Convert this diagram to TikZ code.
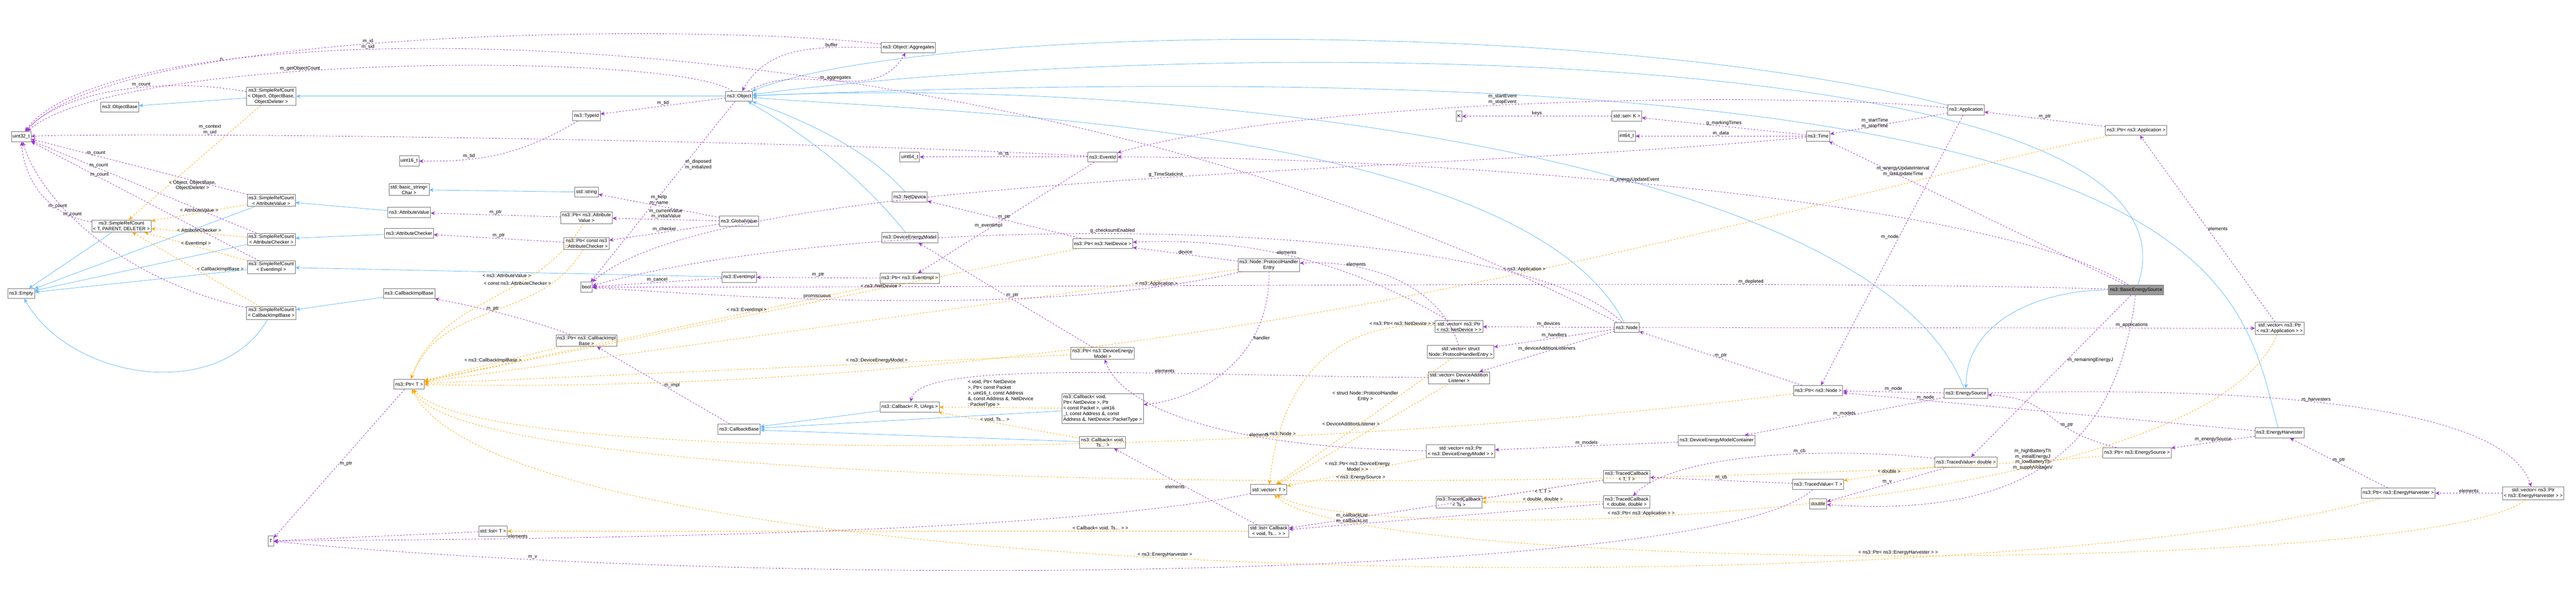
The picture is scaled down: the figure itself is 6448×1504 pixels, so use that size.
\documentclass[tikz,border=0pt]{standalone}
\usepackage{fontspec}
\setmainfont{Liberation Sans}
\usetikzlibrary{arrows.meta}
\definecolor{inhblue}{HTML}{63B8FF}
\definecolor{mempurple}{HTML}{9A32CD}
\definecolor{tplorange}{HTML}{FFA500}
\begin{document}
\begin{tikzpicture}[font=\fontsize{9}{10.5}\selectfont]
                \tikzset{x=0.75pt, y=-0.75pt}
                \tikzstyle{cls}=[rectangle, draw=black!55, line width=0.8pt, fill=white, align=center, inner sep=2.5pt, minimum height=19pt]
                \tikzstyle{cur}=[cls, fill=black!40]
                \tikzstyle{inh}=[draw=inhblue, line width=0.8pt, -{Stealth[length=8pt,width=7pt]}]
                \tikzstyle{mem}=[draw=mempurple, line width=0.8pt, dashed, -{Stealth[length=8pt,width=7pt]}]
                \tikzstyle{tpl}=[draw=tplorange, line width=0.8pt, dashed, -{Stealth[length=8pt,width=7pt]}]
                \tikzstyle{lbl}=[fill=none, align=center, inner sep=1pt, text=black]

                \useasboundingbox (0,0) rectangle (6448,1504);

                % basic types and ref counting
                \draw (53,342)    node[cls]   (u32)   {uint32\_t};
                \draw (53,735)    node[cls]   (empty) {ns3::Empty};
                \draw (300,268)   node[cls]   (obase) {ns3::ObjectBase};
                \draw (679,241)   node[cls]   (srcobj) {ns3::SimpleRefCount\\< Object, ObjectBase,\\ObjectDeleter >};
                \draw (304,566)   node[cls]   (srct)  {ns3::SimpleRefCount\\< T, PARENT, DELETER >};
                \draw (679,502)   node[cls]   (srcav) {ns3::SimpleRefCount\\< AttributeValue >};
                \draw (679,599)   node[cls]   (srcac) {ns3::SimpleRefCount\\< AttributeChecker >};
                \draw (679,669)   node[cls]   (srcev) {ns3::SimpleRefCount\\< EventImpl >};
                \draw (679,784)   node[cls]   (srccb) {ns3::SimpleRefCount\\< CallbackImplBase >};
                \draw (1024,403)  node[cls]   (u16)   {uint16\_t};
                \draw (1024,475)  node[cls]   (bstr)  {std::basic\_string<\\Char >};
                \draw (1024,532)  node[cls]   (aval)  {ns3::AttributeValue};
                \draw (1024,584)  node[cls]   (achk)  {ns3::AttributeChecker};
                \draw (1024,735)  node[cls]   (cbib)  {ns3::CallbackImplBase};
                \draw (1024,962)  node[cls]   (ptrt)  {ns3::Ptr< T >};
                \draw (678,1355)  node[cls]   (tt)    {T};
                \draw (1234,1330) node[cls]   (listt) {std::list< T >};

                % object column
                \draw (1850,241)  node[cls]   (obj)   {ns3::Object};
                \draw (2274,119)  node[cls]   (aggr)  {ns3::Object::Aggregates};
                \draw (1468,290)  node[cls]   (tid)   {ns3::TypeId};
                \draw (1468,481)  node[cls]   (str)   {std::string};
                \draw (1468,545)  node[cls]   (ptrav) {ns3::Ptr< ns3::Attribute\\Value >};
                \draw (1468,610)  node[cls]   (ptrac) {ns3::Ptr< const ns3\\::AttributeChecker >};
                \draw (1850,554)  node[cls]   (gval)  {ns3::GlobalValue};
                \draw (1850,694)  node[cls]   (evimpl) {ns3::EventImpl};
                \draw (1468,719)  node[cls]   (bool)  {bool};
                \draw (1468,853)  node[cls]   (ptrcb) {ns3::Ptr< ns3::CallbackImpl\\Base >};
                \draw (1850,1075) node[cls]   (cbase) {ns3::CallbackBase};

                % devices, events, callbacks
                \draw (2277,393)  node[cls]   (u64)   {uint64\_t};
                \draw (2760,393)  node[cls]   (evid)  {ns3::EventId};
                \draw (2277,493)  node[cls]   (ndev)  {ns3::NetDevice};
                \draw (2277,595)  node[cls]   (dem)   {ns3::DeviceEnergyModel};
                \draw (2277,697)  node[cls]   (ptrev) {ns3::Ptr< ns3::EventImpl >};
                \draw (2760,610)  node[cls]   (ptrnd) {ns3::Ptr< ns3::NetDevice >};
                \draw (3176,664)  node[cls]   (phe)   {ns3::Node::ProtocolHandler\\Entry};
                \draw (2760,885)  node[cls]   (ptrdem) {ns3::Ptr< ns3::DeviceEnergy\\Model >};
                \draw (2277,1019) node[cls]   (cbru)  {ns3::Callback< R, UArgs >};
                \draw (2760,1023) node[cls, align=left] (cbnd) {ns3::Callback< void,\\ Ptr< NetDevice >, Ptr\\< const Packet >, uint16\\\_t, const Address \&, const\\ Address \&, NetDevice::PacketType >};
                \draw (2760,1108) node[cls]   (cbts)  {ns3::Callback< void,\\ Ts... >};
                \draw (3176,1226) node[cls]   (vect)  {std::vector< T >};
                \draw (3176,1330) node[cls]   (listcb) {std::list< Callback\\< void, Ts... > >};

                % time, node, energy
                \draw (3652,291)  node[cls]   (kk)    {K};
                \draw (4072,291)  node[cls]   (setk)  {std::set< K >};
                \draw (4072,341)  node[cls]   (i64)   {int64\_t};
                \draw (4551,341)  node[cls]   (time)  {ns3::Time};
                \draw (4921,275)  node[cls]   (app)   {ns3::Application};
                \draw (5347,326)  node[cls]   (ptrapp) {ns3::Ptr< ns3::Application >};
                \draw (5347,726)  node[cur]   (bes)   {ns3::BasicEnergySource};
                \draw (4072,820)  node[cls]   (node)  {ns3::Node};
                \draw (3652,818)  node[cls]   (vecnd) {std::vector< ns3::Ptr\\< ns3::NetDevice > >};
                \draw (3656,881)  node[cls]   (vecphe) {std::vector< struct\\ Node::ProtocolHandlerEntry >};
                \draw (3652,946)  node[cls]   (vecdal) {std::vector< DeviceAddition\\Listener >};
                \draw (4551,978)  node[cls]   (ptrnode) {ns3::Ptr< ns3::Node >};
                \draw (4921,985)  node[cls]   (esrc)  {ns3::EnergySource};
                \draw (4297,1103) node[cls]   (demc)  {ns3::DeviceEnergyModelContainer};
                \draw (3656,1130) node[cls]   (vecdem) {std::vector< ns3::Ptr\\< ns3::DeviceEnergyModel > >};
                \draw (4072,1193) node[cls]   (tcbtt) {ns3::TracedCallback\\< T, T >};
                \draw (3652,1257) node[cls]   (tcbts) {ns3::TracedCallback\\< Ts >};
                \draw (4072,1257) node[cls]   (tcbdd) {ns3::TracedCallback\\< double, double >};
                \draw (4551,1213) node[cls]   (tvt)   {ns3::TracedValue< T >};
                \draw (4551,1262) node[cls]   (dbl)   {double};
                \draw (4921,1157) node[cls]   (tvd)   {ns3::TracedValue< double >};
                \draw (5706,822)  node[cls]   (vecapp) {std::vector< ns3::Ptr\\< ns3::Application > >};
                \draw (5706,1084) node[cls]   (eharv) {ns3::EnergyHarvester};
                \draw (5349,1134) node[cls]   (ptres) {ns3::Ptr< ns3::EnergySource >};
                \draw (6003,1235) node[cls]   (ptreh) {ns3::Ptr< ns3::EnergyHarvester >};
                \draw (6341,1235) node[cls]   (veceh) {std::vector< ns3::Ptr\\< ns3::EnergyHarvester > >};

                % inheritance
                \draw [inh] (srcobj) -- (obase);
                \draw [inh] (obj) -- (srcobj);
                \draw [inh] (srct) -- (empty);
                \draw [inh] (srcav) -- (empty);
                \draw [inh] (srcac) -- (empty);
                \draw [inh] (srcev) -- (empty);
                \draw [inh] (srccb) to[out=240, in=300] (empty);
                \draw [inh] (aval) -- (srcav);
                \draw [inh] (achk) -- (srcac);
                \draw [inh] (evimpl) -- (srcev);
                \draw [inh] (cbib) -- (srccb);
                \draw [inh] (str) -- (bstr);
                \draw [inh] (app) .. controls (4000,40) and (2300,60) .. (obj);
                \draw [inh] (bes) .. controls (5560,90) and (3000,90) .. (obj);
                \draw [inh] (node) .. controls (3800,300) and (2300,280) .. (obj);
                \draw [inh] (ndev) .. controls (2150,350) and (1950,280) .. (obj);
                \draw [inh] (dem) .. controls (2120,400) and (1950,300) .. (obj);
                \draw [inh] (esrc) .. controls (4700,400) and (3000,190) .. (obj);
                \draw [inh] (eharv) .. controls (5600,700) and (5600,90) .. (obj);
                \draw [inh] (bes) to[out=180, in=90] (esrc);
                \draw [inh] (cbru) -- (cbase);
                \draw [inh] (cbnd) -- (cbase);
                \draw [inh] (cbts) -- (cbase);

                % templates
                \draw [tpl] (srcobj) -- node[lbl, right, pos=0.7] {< Object, ObjectBase,\\ObjectDeleter >} (srct);
                \draw [tpl] (srcav) -- node[lbl, above] {< AttributeValue >} (srct);
                \draw [tpl] (srcac) -- node[lbl, above] {< AttributeChecker >} (srct);
                \draw [tpl] (srcev) -- node[lbl, above] {< EventImpl >} (srct);
                \draw [tpl] (srccb) -- node[lbl, right] {< CallbackImplBase >} (srct);
                \draw [tpl] (ptrav) to[out=240, in=70] node[lbl, left, pos=0.3] {< ns3::AttributeValue >} (ptrt);
                \draw [tpl] (ptrac) to[out=240, in=70] node[lbl, left, pos=0.2] {< const ns3::AttributeChecker >} (ptrt);
                \draw [tpl] (ptrcb) -- node[lbl, above] {< ns3::CallbackImplBase >} (ptrt);
                \draw [tpl] (ptrev) -- node[lbl, above, pos=0.3] {< ns3::EventImpl >} (ptrt);
                \draw [tpl] (ptrnd) -- node[lbl, above, pos=0.3] {< ns3::NetDevice >} (ptrt);
                \draw [tpl] (ptrdem) -- node[lbl, above, pos=0.3] {< ns3::DeviceEnergyModel >} (ptrt);
                \draw [tpl] (ptrnode) .. controls (3200,1150) and (1200,1170) .. node[lbl, above, pos=0.3] {< ns3::Node >} (ptrt);
                \draw [tpl] (ptrapp) .. controls (4500,500) and (3000,1000) .. node[lbl, above, pos=0.45] {< ns3::Application >} (ptrt);
                \draw [tpl] (ptres) .. controls (4300,1230) and (1200,1260) .. node[lbl, above, pos=0.4] {< ns3::EnergySource >} (ptrt);
                \draw [tpl] (ptreh) .. controls (5000,1520) and (1300,1500) .. node[lbl, above, pos=0.55] {< ns3::EnergyHarvester >} (ptrt);
                \draw [tpl] (cbnd) -- node[lbl, above, align=left] {< void, Ptr< NetDevice\\>, Ptr< const Packet\\>, uint16\_t, const Address\\\&, const Address \&, NetDevice\\::PacketType >} (cbru);
                \draw [tpl] (cbts) -- node[lbl, above, pos=0.6] {< void, Ts... >} (cbru);
                \draw [tpl] (vecnd) .. controls (3300,800) and (3200,1000) .. node[lbl, above, pos=0.1] {< ns3::Ptr< ns3::NetDevice > >} (vect);
                \draw [tpl] (vecphe) -- node[lbl, left, pos=0.3] {< struct Node::ProtocolHandler\\Entry >} (vect);
                \draw [tpl] (vecdal) -- node[lbl, left, pos=0.4] {< DeviceAdditionListener >} (vect);
                \draw [tpl] (vecdem) -- node[lbl, above] {< ns3::Ptr< ns3::DeviceEnergy\\Model > >} (vect);
                \draw [tpl] (vecapp) .. controls (5500,1320) and (3400,1370) .. node[lbl, above, pos=0.6] {< ns3::Ptr< ns3::Application > >} (vect);
                \draw [tpl] (veceh) .. controls (6100,1440) and (3400,1440) .. node[lbl, above, pos=0.5] {< ns3::Ptr< ns3::EnergyHarvester > >} (vect);
                \draw [tpl] (listcb) -- node[lbl, above, pos=0.2] {< Callback< void, Ts... > >} (listt);
                \draw [tpl] (tcbtt) -- node[lbl, below] {< T, T >} (tcbts);
                \draw [tpl] (tcbdd) -- node[lbl, above] {< double, double >} (tcbts);
                \draw [tpl] (tvd) -- node[lbl, above] {< double >} (tvt);
                \draw [tpl] (phe) -- node[lbl, below, pos=0.1] {< ns3::Application >} (ptrt);

                % members
                \draw [mem] (node) .. controls (2500,0) and (300,0) .. node[lbl, above, pos=0.65] {m\_id\\m\_sid} (u32);
                \draw [mem] (aggr) .. controls (1800,60) and (300,60) .. node[lbl, above, pos=0.7] {n} (u32);
                \draw [mem] (obj) .. controls (1700,130) and (300,130) .. node[lbl, above, pos=0.6] {m\_getObjectCount} (u32);
                \draw [mem] (srcobj) .. controls (400,190) and (150,230) .. node[lbl, above, pos=0.4] {m\_count} (u32);
                \draw [mem] (srcav) -- node[lbl, above, pos=0.7] {m\_count} (u32);
                \draw [mem] (srcac) -- node[lbl, above, pos=0.7] {m\_count} (u32);
                \draw [mem] (srcev) -- node[lbl, above, pos=0.7] {m\_count} (u32);
                \draw [mem] (srccb) .. controls (300,700) and (100,500) .. node[lbl, above, pos=0.6] {m\_count} (u32);
                \draw [mem] (srct) .. controls (120,540) and (60,450) .. node[lbl, above, pos=0.3] {m\_count} (u32);
                \draw [mem] (evid) .. controls (2000,350) and (400,330) .. node[lbl, above, pos=0.75] {m\_context\\m\_uid} (u32);
                \draw [mem] (tid) .. controls (1300,390) and (1200,405) .. node[lbl, above, pos=0.7] {m\_tid} (u16);
                \draw [mem] (obj) -- node[lbl, above] {m\_tid} (tid);
                \draw [mem] (aggr) to[out=180, in=60] node[lbl, above, pos=0.3] {buffer} (obj);
                \draw [mem] (obj) to[out=30, in=240] node[lbl, above, pos=0.5] {m\_aggregates} (aggr);
                \draw [mem] (obj) -- node[lbl, right, pos=0.35] {m\_disposed\\m\_initialized} (bool);
                \draw [mem] (gval) -- node[lbl, above] {m\_help\\m\_name} (str);
                \draw [mem] (gval) -- node[lbl, above] {m\_currentValue\\m\_initialValue} (ptrav);
                \draw [mem] (gval) -- node[lbl, above] {m\_checker} (ptrac);
                \draw [mem] (ptrav) -- node[lbl, above] {m\_ptr} (aval);
                \draw [mem] (ptrac) -- node[lbl, above] {m\_ptr} (achk);
                \draw [mem] (ptrcb) .. controls (1300,790) and (1150,760) .. node[lbl, above] {m\_ptr} (cbib);
                \draw [mem] (ptrev) -- node[lbl, above] {m\_ptr} (evimpl);
                \draw [mem] (ptrnd) -- node[lbl, above] {m\_ptr} (ndev);
                \draw [mem] (ptrdem) -- node[lbl, right] {m\_ptr} (dem);
                \draw [mem] (ptrnode) -- node[lbl, above] {m\_ptr} (node);
                \draw [mem] (ptrapp) -- node[lbl, above] {m\_ptr} (app);
                \draw [mem] (ptres) .. controls (5100,1070) and (5150,1000) .. node[lbl, above, pos=0.3] {m\_ptr} (esrc);
                \draw [mem] (ptreh) -- node[lbl, above] {m\_ptr} (eharv);
                \draw [mem] (ptrt) -- node[lbl, right] {m\_ptr} (tt);
                \draw [mem] (evimpl) -- node[lbl, above] {m\_cancel} (bool);
                \draw [mem] (phe) .. controls (2600,800) and (1800,740) .. node[lbl, above, pos=0.6] {promiscuous} (bool);
                \draw [mem] (phe) -- node[lbl, above] {device} (ptrnd);
                \draw [mem] (phe) .. controls (3180,900) and (3000,1000) .. node[lbl, right, pos=0.3] {handler} (cbnd);
                \draw [mem] (node) .. controls (3800,540) and (2200,520) .. node[lbl, above, pos=0.55] {g\_checksumEnabled} (bool);
                \draw [mem] (time) .. controls (3500,440) and (1800,430) .. node[lbl, above, pos=0.45] {g\_TimeStaticInit} (bool);
                \draw [mem] (evid) -- node[lbl, above] {m\_ts} (u64);
                \draw [mem] (evid) -- node[lbl, above, pos=0.6] {m\_eventImpl} (ptrev);
                \draw [mem] (cbase) -- node[lbl, right] {m\_impl} (ptrcb);
                \draw [mem] (app) .. controls (4500,230) and (3300,240) .. node[lbl, above, pos=0.55] {m\_startEvent\\m\_stopEvent} (evid);
                \draw [mem] (app) -- node[lbl, left] {m\_startTime\\m\_stopTime} (time);
                \draw [mem] (app) -- node[lbl, left, pos=0.45] {m\_node} (ptrnode);
                \draw [mem] (time) -- node[lbl, above] {m\_data} (i64);
                \draw [mem] (time) -- node[lbl, above] {g\_markingTimes} (setk);
                \draw [mem] (setk) -- node[lbl, above] {keys} (kk);
                \draw [mem] (bes) .. controls (5000,500) and (3600,393) .. node[lbl, above, pos=0.55] {m\_energyUpdateEvent} (evid);
                \draw [mem] (bes) -- node[lbl, above, pos=0.75] {m\_energyUpdateInterval\\m\_lastUpdateTime} (time);
                \draw [mem] (bes) .. controls (4500,700) and (2900,720) .. node[lbl, above, pos=0.3] {m\_depleted} (bool);
                \draw [mem] (bes) .. controls (5300,1100) and (5100,1300) .. node[lbl, left, pos=0.5] {m\_highBatteryTh\\m\_initialEnergyJ\\m\_lowBatteryTh\\m\_supplyVoltageV} (dbl);
                \draw [mem] (bes) -- node[lbl, right, pos=0.4] {m\_remainingEnergyJ} (tvd);
                \draw [mem] (node) -- node[lbl, above] {m\_devices} (vecnd);
                \draw [mem] (node) -- node[lbl, above] {m\_handlers} (vecphe);
                \draw [mem] (node) -- node[lbl, above] {m\_deviceAdditionListeners} (vecdal);
                \draw [mem] (node) -- node[lbl, above, pos=0.8] {m\_applications} (vecapp);
                \draw [mem] (vecnd) .. controls (3450,700) and (3200,590) .. node[lbl, above, pos=0.6] {elements} (ptrnd);
                \draw [mem] (vecphe) .. controls (3600,700) and (3400,650) .. node[lbl, above, pos=0.7] {elements} (phe);
                \draw [mem] (vecdal) .. controls (2900,940) and (2300,900) .. node[lbl, above, pos=0.35] {elements} (cbru);
                \draw [mem] (vecdem) .. controls (3000,1120) and (2800,1000) .. node[lbl, above, pos=0.3] {elements} (ptrdem);
                \draw [mem] (vecapp) -- node[lbl, right] {elements} (ptrapp);
                \draw [mem] (veceh) -- node[lbl, above] {elements} (ptreh);
                \draw [mem] (listcb) -- node[lbl, left] {elements} (cbts);
                \draw [mem] (vect) .. controls (2600,1350) and (1100,1350) .. node[lbl, above, pos=0.7] {elements} (tt);
                \draw [mem] (listt) -- (tt);
                \draw [mem] (esrc) -- node[lbl, above] {m\_node} (ptrnode);
                \draw [mem] (esrc) -- node[lbl, above] {m\_models} (demc);
                \draw [mem] (demc) -- node[lbl, above] {m\_models} (vecdem);
                \draw [mem] (esrc) .. controls (5200,980) and (6250,950) .. node[lbl, above, pos=0.55] {m\_harvesters} (veceh);
                \draw [mem] (eharv) -- node[lbl, above, pos=0.8] {m\_node} (ptrnode);
                \draw [mem] (eharv) -- node[lbl, above] {m\_energySource} (ptres);
                \draw [mem] (tvd) .. controls (4600,1120) and (4200,1130) .. node[lbl, above, pos=0.4] {m\_cb} (tcbdd);
                \draw [mem] (tvd) -- node[lbl, above] {m\_v} (dbl);
                \draw [mem] (tvt) -- node[lbl, above] {m\_cb} (tcbtt);
                \draw [mem] (tvt) .. controls (4300,1450) and (2000,1480) .. node[lbl, above, pos=0.85] {m\_v} (tt);
                \draw [mem] (tcbtt) -- node[lbl, above, pos=0.8] {m\_callbackList} (listcb);
                \draw [mem] (tcbdd) -- node[lbl, above, pos=0.8] {m\_callbackList} (listcb);
            \end{tikzpicture}
\end{document}
